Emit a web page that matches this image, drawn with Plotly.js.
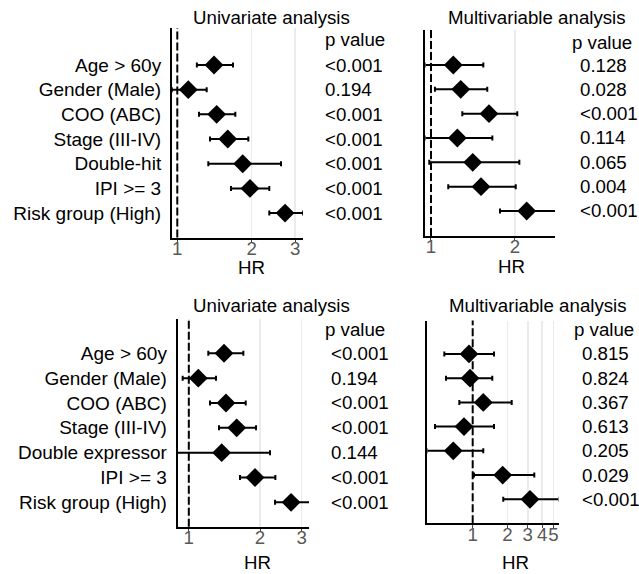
<!DOCTYPE html>
<html><head><meta charset="utf-8">
<script src="https://cdn.plot.ly/plotly-3.0.1.min.js"></script>
<style>html,body{margin:0;padding:0;background:#fff}#chart{width:639px;height:574px}</style>
</head><body><div id="chart"></div>
<script>
// ---------- data ----------
const varsTop = ['Age > 60y','Gender (Male)','COO (ABC)','Stage (III-IV)','Double-hit','IPI >= 3','Risk group (High)'];
const varsBottom = ['Age > 60y','Gender (Male)','COO (ABC)','Stage (III-IV)','Double expressor','IPI >= 3','Risk group (High)'];

const tlHR   = [1.408,1.108,1.443,1.600,1.839,1.968,2.728];
const tlLow  = [1.200,0.950,1.224,1.356,1.335,1.649,2.356];
const tlHigh = [1.680,1.315,1.717,1.938,2.627,2.356,3.230];
const tlP    = ['<0.001','0.194','<0.001','<0.001','<0.001','<0.001','<0.001'];

const trHR   = [1.202,1.278,1.614,1.243,1.411,1.511,2.203];
const trLow  = [0.950,1.033,1.295,0.950,0.986,1.153,1.767];
const trHigh = [1.540,1.591,2.038,1.659,2.073,2.012,2.806];
const trP    = ['0.128','0.028','<0.001','0.114','0.065','0.004','<0.001'];

const blHR   = [1.409,1.097,1.436,1.594,1.377,1.905,2.705];
const blLow  = [1.209,0.942,1.229,1.342,0.880,1.646,2.315];
const blHigh = [1.700,1.303,1.740,1.924,2.204,2.322,3.254];
const blP    = ['<0.001','0.194','<0.001','<0.001','0.144','<0.001','<0.001'];

const brHR   = [0.929,0.948,1.235,0.841,0.679,1.819,3.134];
const brLow  = [0.568,0.587,0.766,0.472,0.400,1.026,1.840];
const brHigh = [1.529,1.478,2.176,1.529,1.235,3.415,5.620];
const brP    = ['0.815','0.824','0.367','0.613','0.205','0.029','<0.001'];

const ticksTL = [1,2,3];
const ticksTR = [1,2];
const ticksBL = [1,2,3];
const ticksBR = [1,2,3,4,5];

const titleUni = 'Univariate analysis';
const titleMulti = 'Multivariable analysis';
const pHeader = 'p value';
const xTitle = 'HR';

// ---------- layout helpers ----------
const W = 639, H = 574;
const FONT = 'Liberation Sans, Arial, Helvetica, sans-serif';
const FS = 18.7;
const fx = px => px / W;
const fy = py => 1 - py / H;

function trace(cats, hr, lo, hi, xa, ya) {
  return {
    type: 'scatter', mode: 'markers',
    x: hr, y: cats, xaxis: xa, yaxis: ya,
    marker: {symbol: 'diamond', size: 14.5, color: '#000', line: {width: 0}},
    error_x: {
      type: 'data', symmetric: false,
      array: hi.map((h, i) => h - hr[i]),
      arrayminus: lo.map((l, i) => hr[i] - l),
      color: '#000', thickness: 2, width: 2.5
    },
    showlegend: false, hoverinfo: 'x+y'
  };
}

function xAxis(dom, anchor, rng, ticks) {
  return {
    domain: dom, anchor: anchor, type: 'log', range: rng, autorange: false,
    tickvals: ticks, ticktext: ticks.map(String), tickangle: 0,
    showgrid: true, gridcolor: '#ebebeb', gridwidth: 1.5, zeroline: false,
    showline: true, linecolor: '#000', linewidth: 2,
    ticks: 'outside', ticklen: 3, tickwidth: 1, tickcolor: '#444',
    ticklabelstandoff: -10,
    tickfont: {family: FONT, size: FS, color: '#595959'}
  };
}
function yAxis(dom, anchor, cats, rng, showLabels) {
  return {
    domain: dom, anchor: anchor, type: 'category',
    categoryorder: 'array', categoryarray: cats,
    range: rng, autorange: false,
    showgrid: false, zeroline: false,
    showline: true, linecolor: '#000', linewidth: 2,
    ticks: showLabels ? 'outside' : '', ticklen: 5, tickcolor: 'rgba(0,0,0,0)',
    showticklabels: showLabels,
    tickfont: {family: FONT, size: 19, color: '#000'}
  };
}

const data = [
  trace(varsTop, tlHR, tlLow, tlHigh, 'x', 'y'),
  trace(varsTop, trHR, trLow, trHigh, 'x2', 'y2'),
  trace(varsBottom, blHR, blLow, blHigh, 'x3', 'y3'),
  trace(varsBottom, brHR, brLow, brHigh, 'x4', 'y4')
];

const ann = [];
function txt(text, px, py, xanchor, extra) {
  ann.push(Object.assign({
    text: text, xref: 'paper', yref: 'paper', x: fx(px), y: fy(py),
    xanchor: xanchor, yanchor: 'middle', showarrow: false,
    font: {family: FONT, size: FS, color: '#000'}
  }, extra || {}));
}
function pcol(vals, px, yref, xanchor) {
  vals.forEach((v, i) => ann.push({
    text: v, xref: 'paper', yref: yref, x: fx(px), y: i,
    xanchor: xanchor, yanchor: 'middle', showarrow: false,
    font: {family: FONT, size: FS, color: '#000'}
  }));
}

// titles
txt(titleUni, 271, 18, 'center');
txt(titleMulti, 536.5, 18, 'center');
txt(titleUni, 271, 305, 'center');
txt(titleMulti, 537.5, 305, 'center');
// p value headers
txt(pHeader, 323, 39, 'left');
txt(pHeader, 570, 43, 'left');
txt(pHeader, 323, 329, 'left');
txt(pHeader, 572, 329, 'left');
// HR labels
txt(xTitle, 251.7, 267.5, 'center');
txt(xTitle, 511.7, 266.5, 'center');
txt(xTitle, 257.3, 562, 'center');
txt(xTitle, 515, 562, 'center');
// p values
pcol(tlP, 323, 'y', 'left');
pcol(trP, 578, 'y2', 'left');
pcol(blP, 329, 'y3', 'left');
pcol(brP, 580, 'y4', 'left');

function refLine(xa, ya) {
  return {type: 'line', xref: xa, yref: ya + ' domain', x0: 1, x1: 1, y0: 0, y1: 1,
          line: {color: '#000', width: 2, dash: '8px,3px'}, layer: 'above'};
}

const layout = {
  width: W, height: H,
  margin: {l: 0, r: 0, t: 0, b: 0, pad: 0},
  paper_bgcolor: '#fff', plot_bgcolor: '#fff',
  font: {family: FONT, size: FS, color: '#000'},
  showlegend: false,
  xaxis:  xAxis([fx(172), fx(303)], 'y', [-0.0214, 0.5085], ticksTL),
  yaxis:  yAxis([fy(237.5), fy(28)], 'x', varsTop, [6.99, -1.5], true),
  xaxis2: xAxis([fx(425.3), fx(555)], 'y2', [-0.0204, 0.4444], ticksTR),
  yaxis2: yAxis([fy(236), fy(30)], 'x2', varsTop, [7.03, -1.44], false),
  xaxis3: xAxis([fx(177.7), fx(309)], 'y3', [-0.0469, 0.508], ticksBL),
  yaxis3: yAxis([fy(526.7), fy(318.5)], 'x3', varsBottom, [6.98, -1.40], true),
  xaxis4: xAxis([fx(427.3), fx(558.5)], 'y4', [-0.393, 0.743], ticksBR),
  yaxis4: yAxis([fy(523.3), fy(320.5)], 'x4', varsBottom, [6.99, -1.38], false),
  shapes: [refLine('x','y'), refLine('x2','y2'), refLine('x3','y3'), refLine('x4','y4')],
  annotations: ann
};

Plotly.newPlot('chart', data, layout, {displayModeBar: false, staticPlot: true});
</script>
</body></html>
